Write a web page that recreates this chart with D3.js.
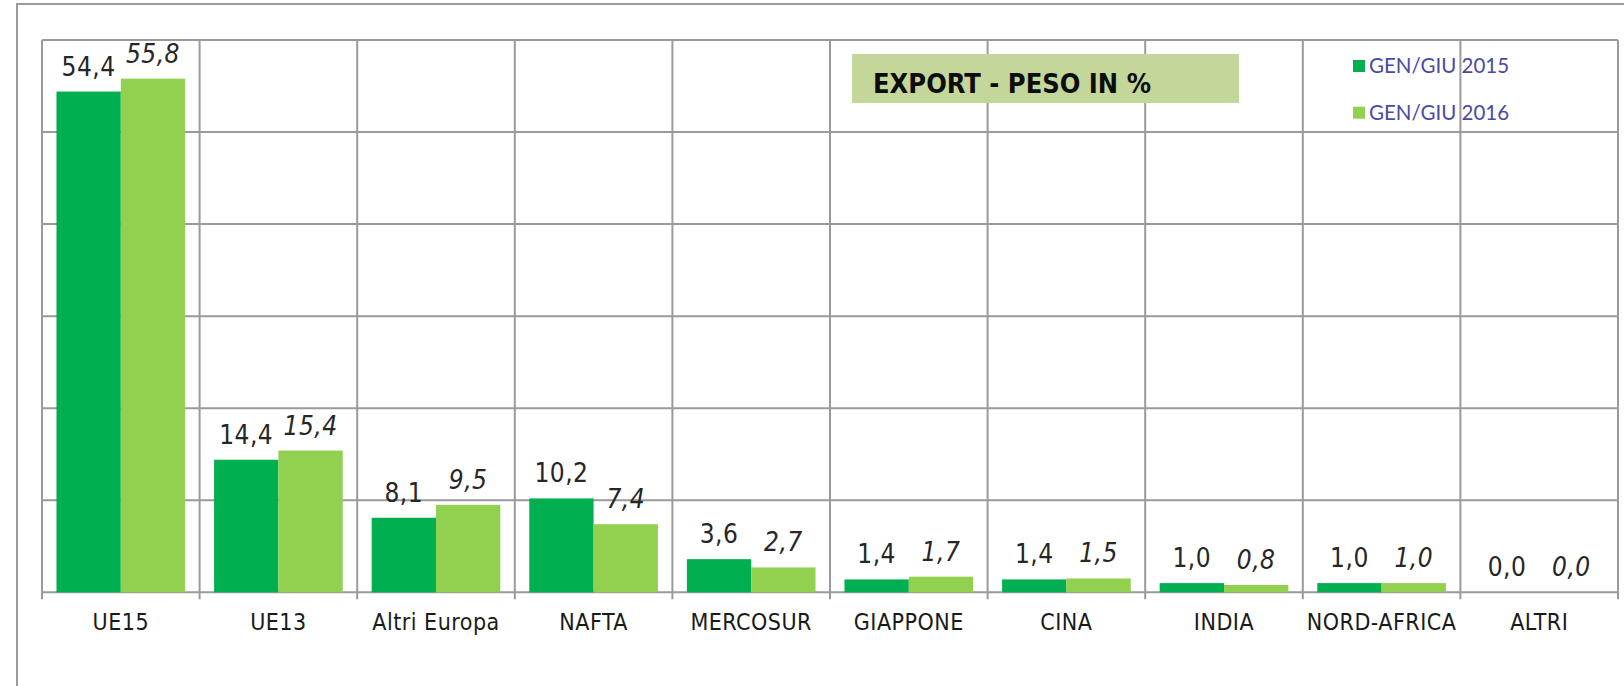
<!DOCTYPE html>
<html>
<head>
<meta charset="utf-8">
<script src="https://cdn.jsdelivr.net/npm/d3@7"></script>
<style>
  body { margin: 0; background: #fff; }
  svg { display: block; }
</style>
</head>
<body>
<script>
// export weight in % by area, gen/giu 2015 vs 2016

var categories = ["UE15", "UE13", "Altri Europa", "NAFTA", "MERCOSUR", "GIAPPONE", "CINA", "INDIA", "NORD-AFRICA", "ALTRI"];
var series = ["GEN/GIU 2015", "GEN/GIU 2016"];
var values2015 = [54.4, 14.4, 8.1, 10.2, 3.6, 1.4, 1.4, 1.0, 1.0, 0.0];
var values2016 = [55.8, 15.4, 9.5, 7.4, 2.7, 1.7, 1.5, 0.8, 1.0, 0.0];
var yTicks = [0, 10, 20, 30, 40, 50, 60];
var title = "EXPORT - PESO IN %";

var width = 1624;
var height = 686;
var margin = {top: 40, right: 6, bottom: 94, left: 42};

var col = ["#00b050", "#92d050"];
var gridCol = "#9a9a9a";
var narrow = "'Liberation Sans Narrow', 'DejaVu Sans Condensed', 'Arial Narrow', sans-serif";

var svg = d3.select("body")
  .append("svg")
  .attr("width", width)
  .attr("height", height);

// outer chart frame
svg.append("rect")
  .attr("x", 17)
  .attr("y", 4)
  .attr("width", width)
  .attr("height", height)
  .attr("fill", "none")
  .attr("stroke", gridCol)
  .attr("stroke-width", 2);

var x = d3.scaleBand()
  .domain(categories)
  .range([margin.left, width - margin.right])
  .padding(0);

var xs = d3.scaleBand()
  .domain(series)
  .range([0, x.bandwidth()])
  .paddingInner(0)
  .paddingOuter(0.225);

var y = d3.scaleLinear()
  .domain([0, 60])
  .range([height - margin.bottom + 0.3, margin.top]);

var g = svg.append("g");

// horizontal grid
g.selectAll(".hgrid")
  .data(yTicks)
  .enter()
  .append("line")
  .attr("x1", margin.left)
  .attr("x2", width - margin.right)
  .attr("y1", function(d) { return y(d); })
  .attr("y2", function(d) { return y(d); })
  .attr("stroke", gridCol)
  .attr("stroke-width", 2);

// vertical grid / category ticks
var bounds = categories.map(function(c) { return x(c); });
bounds.push(x(categories[categories.length - 1]) + x.bandwidth());

g.selectAll(".vgrid")
  .data(bounds)
  .enter()
  .append("line")
  .attr("x1", function(d) { return d; })
  .attr("x2", function(d) { return d; })
  .attr("y1", y(60))
  .attr("y2", y(0) + 7)
  .attr("stroke", gridCol)
  .attr("stroke-width", 2);

var all = [values2015, values2016];

all.forEach(function(vals, i) {
  var grp = g.append("g");

  grp.selectAll("rect")
    .data(vals)
    .enter()
    .append("rect")
    .attr("x", function(d, j) { return x(categories[j]) + xs(series[i]); })
    .attr("y", function(d) { return y(d); })
    .attr("width", xs.bandwidth())
    .attr("height", function(d) { return y(0) - y(d); })
    .attr("fill", col[i]);

  grp.selectAll("text")
    .data(vals)
    .enter()
    .append("text")
    .attr("x", function(d, j) { return x(categories[j]) + xs(series[i]) + xs.bandwidth() / 2; })
    .attr("y", function(d) { return y(d) - 16; })
    .attr("text-anchor", "middle")
    .style("font-family", narrow)
    .style("font-size", "26px")
    .style("letter-spacing", "0.5px")
    .style("font-style", i == 1 ? "italic" : "normal")
    .attr("fill", "#262626")
    .text(function(d) { return d3.format(".1f")(d).replace(".", ","); });
});

// category labels
g.selectAll(".cat")
  .data(categories)
  .enter()
  .append("text")
  .attr("x", function(d) { return x(d) + x.bandwidth() / 2; })
  .attr("y", y(0) + 38)
  .attr("text-anchor", "middle")
  .style("font-family", narrow)
  .style("font-size", "23px")
  .style("letter-spacing", "0.5px")
  .attr("fill", "#1a1a1a")
  .text(function(d) { return d; });

// title box
svg.append("rect")
  .attr("x", 852)
  .attr("y", 54)
  .attr("width", 387)
  .attr("height", 49)
  .attr("fill", "#c4d79b");

svg.append("text")
  .attr("x", 873)
  .attr("y", 93)
  .style("font-family", "'DejaVu Sans Condensed', 'Liberation Sans', sans-serif")
  .style("font-weight", "bold")
  .style("font-size", "27px")
  .attr("fill", "#0d0d0d")
  .text(title);

// legend
var legend = svg.append("g")
  .attr("transform", "translate(1353,60)");

series.forEach(function(s, i) {
  legend.append("rect")
    .attr("x", 0)
    .attr("y", i * 46.7)
    .attr("width", 12)
    .attr("height", 12)
    .attr("fill", col[i]);

  legend.append("text")
    .attr("x", 16)
    .attr("y", i * 46.7 + 13)
    .style("font-family", "Lato, 'Noto Sans', sans-serif")
    .style("font-size", "20.5px")
    .attr("fill", "#4a4aa6")
    .text(s);
});
</script>
</body>
</html>
